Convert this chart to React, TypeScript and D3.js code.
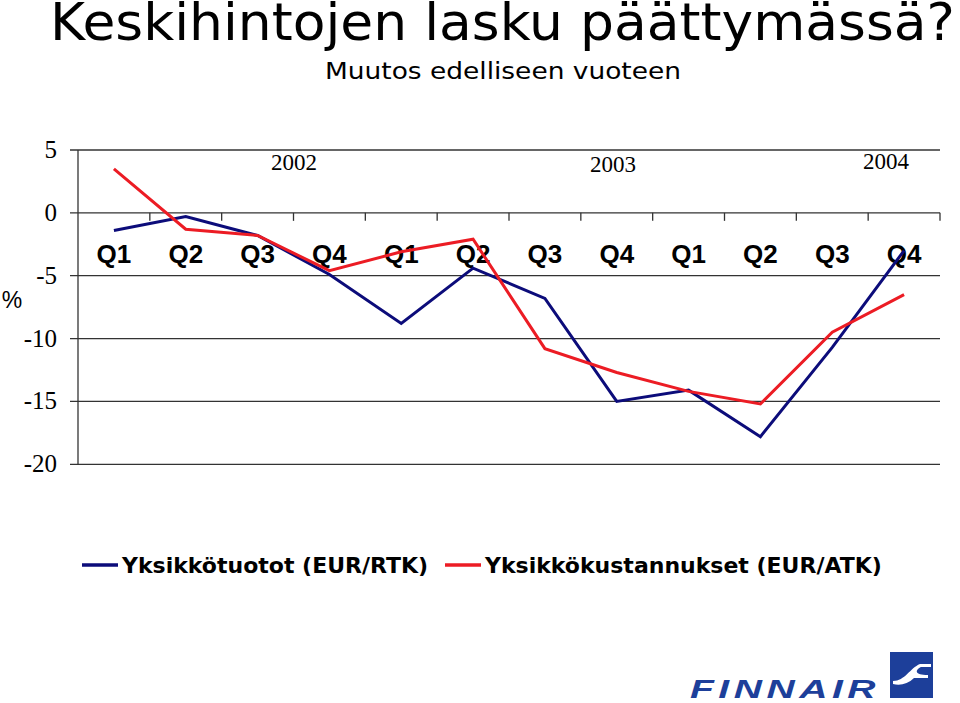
import React from "react";
import * as d3 from "d3";

const quarters = ["Q1", "Q2", "Q3", "Q4", "Q1", "Q2", "Q3", "Q4", "Q1", "Q2", "Q3", "Q4"];
const years = ["2002", "2003", "2004"];
const revenue = [-1.4, -0.3, -1.8, -4.9, -8.8, -4.4, -6.8, -15.0, -14.1, -17.8, -10.7, -3.0];
const cost = [3.5, -1.3, -1.8, -4.6, -3.1, -2.1, -10.8, -12.7, -14.2, -15.2, -9.5, -6.5];
const yTicks = [5, 0, -5, -10, -15, -20];
const seriesNames = ["Yksikkötuotot (EUR/RTK)", "Yksikkökustannukset (EUR/ATK)"];
const seriesColors = ["#0c0c7a", "#ec1c24"];

export default function App() {
  const W = 960, H = 703;
  const x0 = 78, x1 = 940;
  const x = d3.scaleBand<number>().domain(d3.range(12)).range([x0, x1]);
  const y = d3.scaleLinear().domain([-20, 5]).range([464.3, 150]);
  const line = d3.line<number>().x((_, i) => x(i)! + x.bandwidth() / 2).y((d) => y(d));
  const yearPos = [
    { x: 294, y: 170 },
    { x: 613, y: 172 },
    { x: 886, y: 169 },
  ];
  return (
    <svg width={W} height={H} style={{ position: "absolute", left: 0, top: 0, background: "#fff" }}>
      <text x={50} y={40} fontFamily="DejaVu Sans, Verdana" fontSize={51} fill="#000" textLength={905} lengthAdjust="spacingAndGlyphs">
        Keskihintojen lasku päättymässä?
      </text>
      <text x={325} y={79} fontFamily="DejaVu Sans, Verdana" fontSize={23} fill="#000" textLength={356} lengthAdjust="spacingAndGlyphs">
        Muutos edelliseen vuoteen
      </text>
      {/* gridlines */}
      {yTicks.map((t) => (
        <g key={t}>
          <line x1={x0 - 8} x2={x1} y1={y(t)} y2={y(t)} stroke="#333" strokeWidth={1.3} />
          <text x={57} y={y(t) + 8} textAnchor="end" fontFamily="Liberation Serif, Times New Roman" fontSize={25} fill="#000">
            {t}
          </text>
        </g>
      ))}
      <line x1={x0} x2={x0} y1={y(5)} y2={y(-20)} stroke="#333" strokeWidth={1.3} />
      {/* category ticks on zero line */}
      {d3.range(1, 13).map((i) => (
        <line key={i} x1={x0 + i * x.step()} x2={x0 + i * x.step()} y1={y(0)} y2={y(0) + 8} stroke="#333" strokeWidth={1.3} />
      ))}
      <text x={12} y={308} textAnchor="middle" fontFamily="Liberation Sans, Arial" fontSize={23} fill="#000">%</text>
      {years.map((yr, i) => (
        <text key={yr} x={yearPos[i].x} y={yearPos[i].y} textAnchor="middle" fontFamily="Liberation Serif, Times New Roman" fontSize={23} fill="#000">
          {yr}
        </text>
      ))}
      {quarters.map((q, i) => (
        <text key={i} x={x(i)! + x.bandwidth() / 2} y={263} textAnchor="middle" fontFamily="Liberation Sans, Arial" fontWeight="bold" fontSize={26} fill="#000">
          {q}
        </text>
      ))}
      <path d={line(revenue)!} fill="none" stroke={seriesColors[0]} strokeWidth={3} strokeLinejoin="miter" />
      <path d={line(cost)!} fill="none" stroke={seriesColors[1]} strokeWidth={3} strokeLinejoin="miter" />
      {/* legend */}
      <line x1={82} x2={118} y1={565} y2={565} stroke={seriesColors[0]} strokeWidth={3.5} />
      <text x={122} y={573} fontFamily="DejaVu Sans, Verdana" fontWeight="bold" fontSize={22} fill="#000">{seriesNames[0]}</text>
      <line x1={445} x2={481} y1={565} y2={565} stroke={seriesColors[1]} strokeWidth={3.5} />
      <text x={485} y={573} fontFamily="DejaVu Sans, Verdana" fontWeight="bold" fontSize={22} fill="#000">{seriesNames[1]}</text>
      {/* logo */}
      <text x={690} y={698} fontFamily="Liberation Sans, Arial" fontWeight="bold" fontStyle="italic" fontSize={26} fill="#1d3f9a" letterSpacing={3} textLength={190} lengthAdjust="spacingAndGlyphs">
        FINNAIR
      </text>
      <rect x={890} y={652} width={43} height={46} fill="#1d3f9a" />
      <path d="M893 681 C905 681 910 668 920 664 L931 664 L931 667 L921 667 C915 670 914 675 928 675 L928 678 L914 678 C908 684 900 686 893 684 Z" fill="#fff" />
    </svg>
  );
}
